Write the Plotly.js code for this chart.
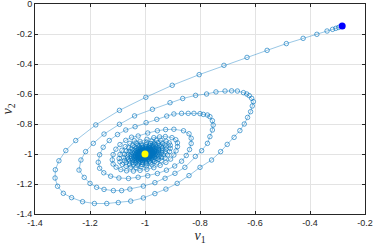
<!DOCTYPE html>
<html>
<head>
<meta charset="utf-8">
<script src="https://cdn.plot.ly/plotly-3.0.1.min.js"></script>
<style>html,body{margin:0;padding:0;background:#fff;}#chart{width:374px;height:246px;}</style>
</head>
<body>
<div id="chart"></div>
<script>
// Trajectory: v1 and v2 of each sample
const trajV1 = [
-0.284,-0.296,-0.306,-0.318,-0.338,-0.375,-0.425,-0.486,-0.556,-0.629,-0.713,-0.803,-0.901,-0.997,-1.093,-1.179,-1.252,-1.288,-1.313,-1.326,-1.327,-1.318,-1.297,-1.267,-1.227,-1.184,-1.139,-1.097,-1.052,-1.006,-0.964,-0.924,-0.883,-0.840,-0.800,-0.758,-0.725,-0.701,-0.676,-0.655,-0.639,-0.627,-0.616,-0.610,-0.606,-0.612,-0.621,-0.630,-0.642,-0.664,-0.685,-0.709,-0.742,-0.776,-0.816,
-0.863,-0.909,-0.973,-1.038,-1.093,-1.149,-1.188,-1.216,-1.233,-1.240,-1.221,-1.200,-1.176,-1.149,-1.115,-1.085,-1.055,-1.006,-0.964,-0.927,-0.891,-0.855,-0.817,-0.794,-0.773,-0.764,-0.755,-0.752,-0.755,-0.764,-0.773,-0.788,-0.800,-0.822,-0.843,-0.867,-0.895,-0.921,-0.957,-0.996,-1.036,
-1.070,-1.100,-1.130,-1.152,-1.165,-1.170,-1.165,-1.150,-1.125,-1.095,-1.060,-1.025,-0.990,-0.955,-0.922,-0.892,-0.867,-0.850,-0.838,-0.832,-0.832,-0.840,-0.860,-0.895,-0.925,-0.955,-0.990,-1.025,
-1.049,-1.070,-1.091,-1.106,-1.116,-1.119,-1.116,-1.105,-1.088,-1.067,-1.042,-1.018,-0.993,-0.968,-0.945,-0.924,-0.907,-0.895,-0.887,-0.882,-0.882,-0.888,-0.902,-0.926,-0.947,-0.968,-0.993,-1.018,
-1.039,-1.055,-1.072,-1.084,-1.091,-1.094,-1.091,-1.083,-1.069,-1.052,-1.033,-1.014,-0.995,-0.975,-0.957,-0.941,-0.927,-0.918,-0.911,-0.908,-0.908,-0.912,-0.923,-0.942,-0.959,-0.975,-0.995,-1.014,
-1.032,-1.045,-1.059,-1.068,-1.074,-1.077,-1.074,-1.068,-1.056,-1.043,-1.027,-1.011,-0.996,-0.980,-0.965,-0.951,-0.940,-0.933,-0.927,-0.924,-0.924,-0.928,-0.937,-0.953,-0.966,-0.980,-0.996,-1.011,
-1.026,-1.037,-1.048,-1.056,-1.061,-1.063,-1.061,-1.056,-1.046,-1.035,-1.022,-1.009,-0.996,-0.983,-0.971,-0.960,-0.951,-0.945,-0.940,-0.938,-0.938,-0.941,-0.948,-0.961,-0.972,-0.983,-0.996,-1.009,
-1.021,-1.030,-1.039,-1.046,-1.050,-1.051,-1.050,-1.045,-1.038,-1.029,-1.018,-1.008,-0.997,-0.987,-0.977,-0.968,-0.960,-0.955,-0.951,-0.950,-0.950,-0.952,-0.958,-0.969,-0.978,-0.987,-0.997,-1.008,
-1.017,-1.025,-1.032,-1.037,-1.040,-1.042,-1.040,-1.037,-1.031,-1.023,-1.015,-1.006,-0.998,-0.989,-0.981,-0.974,-0.967,-0.963,-0.960,-0.959,-0.959,-0.961,-0.966,-0.974,-0.982,-0.989,-0.998,-1.006,
-1.014,-1.020,-1.026,-1.030,-1.033,-1.034,-1.033,-1.030,-1.025,-1.019,-1.012,-1.005,-0.998,-0.991,-0.984,-0.978,-0.973,-0.970,-0.968,-0.966,-0.966,-0.968,-0.972,-0.979,-0.985,-0.991,-0.998,-1.005,
-1.012,-1.017,-1.022,-1.025,-1.027,-1.028,-1.027,-1.025,-1.021,-1.016,-1.010,-1.004,-0.998,-0.993,-0.987,-0.982,-0.978,-0.975,-0.973,-0.972,-0.972,-0.974,-0.977,-0.983,-0.988,-0.993,-0.998,-1.004,
-1.010,-1.014,-1.018,-1.021,-1.022,-1.023,-1.022,-1.020,-1.017,-1.013,-1.008,-1.003,-0.999,-0.994,-0.990,-0.985,-0.982,-0.980,-0.978,-0.977,-0.977,-0.978,-0.981,-0.986,-0.990,-0.994,-0.999,-1.003,
-1.008,-1.011,-1.014,-1.017,-1.018,-1.019,-1.018,-1.017,-1.014,-1.011,-1.007,-1.003,-0.999,-0.995,-0.991,-0.988,-0.985,-0.984,-0.982,-0.982,-0.982,-0.982,-0.985,-0.988,-0.992,-0.995,-0.999,-1.003,
-1.006,-1.010,-1.013,-1.013,-1.010,-1.005,-0.999,-0.994,-0.989,-0.987,-0.987,-0.989,-0.994,-0.999,-1.000
];
const trajV2 = [
-0.145,-0.156,-0.162,-0.169,-0.180,-0.202,-0.229,-0.264,-0.309,-0.356,-0.409,-0.471,-0.542,-0.622,-0.709,-0.806,-0.910,-0.977,-1.045,-1.105,-1.160,-1.215,-1.262,-1.291,-1.318,-1.330,-1.330,-1.324,-1.314,-1.293,-1.264,-1.234,-1.196,-1.144,-1.089,-1.040,-0.984,-0.936,-0.889,-0.844,-0.800,-0.756,-0.718,-0.680,-0.651,-0.629,-0.611,-0.600,-0.591,-0.580,-0.579,-0.580,-0.586,-0.600,-0.609,
-0.630,-0.658,-0.702,-0.746,-0.802,-0.867,-0.929,-0.984,-1.040,-1.107,-1.156,-1.196,-1.222,-1.236,-1.244,-1.244,-1.234,-1.214,-1.191,-1.162,-1.129,-1.089,-1.016,-0.978,-0.929,-0.884,-0.840,-0.807,-0.778,-0.751,-0.740,-0.736,-0.731,-0.729,-0.729,-0.729,-0.733,-0.747,-0.769,-0.791,-0.818,
-0.840,-0.870,-0.910,-0.955,-1.005,-1.055,-1.095,-1.125,-1.148,-1.160,-1.163,-1.155,-1.145,-1.130,-1.108,-1.080,-1.048,-1.010,-0.970,-0.930,-0.895,-0.865,-0.845,-0.835,-0.837,-0.845,-0.860,-0.880,
-0.888,-0.909,-0.937,-0.968,-1.004,-1.039,-1.067,-1.088,-1.104,-1.112,-1.114,-1.109,-1.102,-1.091,-1.076,-1.056,-1.034,-1.007,-0.979,-0.951,-0.926,-0.905,-0.891,-0.884,-0.886,-0.891,-0.902,-0.916,
-0.912,-0.929,-0.951,-0.975,-1.003,-1.030,-1.052,-1.069,-1.081,-1.088,-1.090,-1.085,-1.080,-1.072,-1.059,-1.044,-1.026,-1.006,-0.984,-0.962,-0.942,-0.926,-0.915,-0.909,-0.910,-0.915,-0.923,-0.934,
-0.928,-0.942,-0.960,-0.980,-1.002,-1.025,-1.043,-1.056,-1.067,-1.072,-1.073,-1.070,-1.065,-1.059,-1.049,-1.036,-1.022,-1.005,-0.987,-0.969,-0.953,-0.939,-0.930,-0.926,-0.927,-0.930,-0.937,-0.946,
-0.941,-0.952,-0.967,-0.983,-1.002,-1.020,-1.035,-1.046,-1.055,-1.059,-1.060,-1.057,-1.054,-1.048,-1.040,-1.030,-1.018,-1.004,-0.989,-0.974,-0.961,-0.950,-0.943,-0.939,-0.940,-0.943,-0.948,-0.956,
-0.952,-0.961,-0.973,-0.987,-1.002,-1.017,-1.029,-1.038,-1.044,-1.048,-1.049,-1.047,-1.044,-1.039,-1.032,-1.024,-1.014,-1.003,-0.991,-0.979,-0.969,-0.960,-0.954,-0.951,-0.951,-0.954,-0.958,-0.964,
-0.961,-0.968,-0.978,-0.989,-1.001,-1.014,-1.023,-1.031,-1.036,-1.039,-1.040,-1.038,-1.036,-1.032,-1.027,-1.020,-1.012,-1.003,-0.993,-0.983,-0.974,-0.967,-0.962,-0.960,-0.960,-0.962,-0.966,-0.971,
-0.968,-0.974,-0.982,-0.991,-1.001,-1.011,-1.019,-1.025,-1.030,-1.032,-1.033,-1.031,-1.029,-1.026,-1.022,-1.016,-1.010,-1.002,-0.994,-0.986,-0.979,-0.973,-0.969,-0.967,-0.967,-0.969,-0.972,-0.976,
-0.974,-0.979,-0.985,-0.993,-1.001,-1.009,-1.016,-1.021,-1.024,-1.026,-1.027,-1.026,-1.024,-1.022,-1.018,-1.013,-1.008,-1.002,-0.995,-0.988,-0.983,-0.978,-0.974,-0.973,-0.973,-0.974,-0.977,-0.980,
-0.978,-0.982,-0.988,-0.994,-1.001,-1.007,-1.013,-1.017,-1.020,-1.022,-1.022,-1.021,-1.020,-1.018,-1.015,-1.011,-1.007,-1.001,-0.996,-0.991,-0.986,-0.982,-0.979,-0.978,-0.978,-0.979,-0.981,-0.984,
-0.982,-0.986,-0.990,-0.995,-1.001,-1.006,-1.011,-1.014,-1.016,-1.018,-1.018,-1.017,-1.016,-1.014,-1.012,-1.009,-1.005,-1.001,-0.997,-0.992,-0.988,-0.985,-0.983,-0.982,-0.982,-0.983,-0.985,-0.987,
-0.987,-0.993,-1.000,-1.008,-1.012,-1.013,-1.012,-1.009,-1.004,-0.998,-0.992,-0.988,-0.987,-0.989,-1.000
];
const startPoint = [-0.283, -0.146];
const endPoint = [-1.0, -1.0];
const xTickVals = [-1.4, -1.2, -1.0, -0.8, -0.6, -0.4, -0.2];
const xTickText = ['-1.4', '-1.2', '-1', '-0.8', '-0.6', '-0.4', '-0.2'];
const yTickVals = [0, -0.2, -0.4, -0.6, -0.8, -1.0, -1.2, -1.4];
const yTickText = ['0', '-0.2', '-0.4', '-0.6', '-0.8', '-1', '-1.2', '-1.4'];

const markerBlue = 'rgba(0,114,189,0.7)';
const traces = [
  {
    x: trajV1, y: trajV2, type: 'scatter', mode: 'lines+markers',
    line: {color: 'rgba(0,114,189,0.5)', width: 0.8},
    marker: {symbol: 'circle-open', size: 4.5, color: markerBlue, line: {width: 0.9, color: markerBlue}},
    hoverinfo: 'skip'
  },
  {
    x: [startPoint[0]], y: [startPoint[1]], type: 'scatter', mode: 'markers',
    marker: {symbol: 'circle', size: 7, color: '#0000ff', line: {width: 0}}
  },
  {
    x: [endPoint[0]], y: [endPoint[1]], type: 'scatter', mode: 'markers',
    marker: {symbol: 'circle', size: 7, color: '#ffff00', line: {width: 0}}
  }
];

const axisCommon = {
  showline: true, linecolor: '#262626', linewidth: 1, mirror: 'allticks',
  ticks: 'inside', ticklen: 3, tickwidth: 1, tickcolor: '#262626',
  showgrid: true, gridcolor: '#e3e3e3', gridwidth: 1, zeroline: false,
  ticklabeloverflow: 'allow',
  tickfont: {family: 'Liberation Sans, Arial, sans-serif', size: 9, color: '#262626'}
};

const layout = {
  width: 374, height: 246,
  margin: {l: 35, r: 9, t: 4, b: 32},
  paper_bgcolor: '#ffffff', plot_bgcolor: '#ffffff',
  showlegend: false,
  xaxis: Object.assign({}, axisCommon, {
    range: [-1.4, -0.2], tickvals: xTickVals, ticktext: xTickText,
    title: {text: '<i>v</i><sub>1</sub>', font: {family: 'Liberation Serif, serif', size: 14, color: '#262626'}, standoff: 3}
  }),
  yaxis: Object.assign({}, axisCommon, {
    range: [-1.4, 0], tickvals: yTickVals, ticktext: yTickText,
    title: {text: '<i>v</i><sub>2</sub>', font: {family: 'Liberation Serif, serif', size: 14, color: '#262626'}, standoff: 2}
  })
};

Plotly.newPlot('chart', traces, layout, {displayModeBar: false, staticPlot: true});
</script>
</body>
</html>
